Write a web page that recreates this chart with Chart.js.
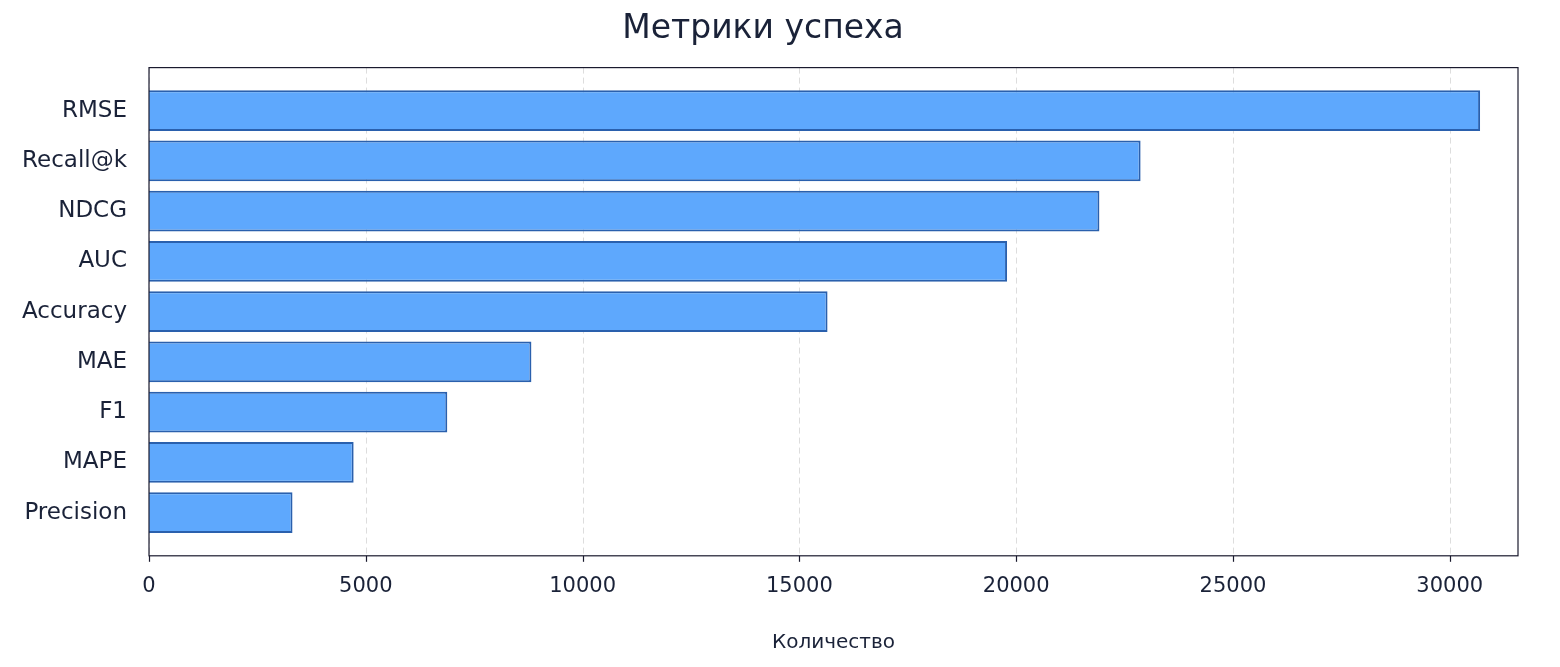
<!DOCTYPE html>
<html><head><meta charset="utf-8">
<script src="https://cdn.jsdelivr.net/npm/chart.js@4"></script>
<style>html,body{margin:0;background:#fff}#w{width:1560px;height:667px}</style>
</head><body><div id="w"><canvas id="c"></canvas></div>
<script>
const categories = ["RMSE","Recall@k","NDCG","AUC","Accuracy","MAE","F1","MAPE","Precision"];
const values = [30700,22870,21920,19790,15650,8820,6880,4720,3310];
const xTicks = [0,5000,10000,15000,20000,25000,30000];
const EXT = 18;
const frame = {id:'frame',
beforeDatasetsDraw(c){const a=c.chartArea,x=c.ctx,s=c.scales.x;x.save();
 x.strokeStyle='#dddddd';x.lineWidth=1;x.setLineDash([6,4]);
 xTicks.forEach(v=>{const p=Math.round(s.getPixelForValue(v))+0.5;x.beginPath();x.moveTo(p,a.top-EXT);x.lineTo(p,a.bottom+EXT);x.stroke();});
 x.setLineDash([]);x.strokeStyle='#1a1a2e';x.lineWidth=1.2;
 xTicks.forEach(v=>{const p=Math.round(s.getPixelForValue(v))+0.5;x.beginPath();x.moveTo(p,a.bottom+EXT);x.lineTo(p,a.bottom+EXT+6);x.stroke();});
 x.restore();},
afterDraw(c){const a=c.chartArea,x=c.ctx;x.save();x.strokeStyle='#1a1a2e';x.lineWidth=1.2;x.strokeRect(a.left,a.top-EXT,a.right-a.left,a.bottom-a.top+2*EXT);x.restore();}};
new Chart(document.getElementById('c'),{
type:'bar',
data:{labels:categories,datasets:[{data:values,backgroundColor:'#5ea8fd',borderColor:'#2a60ad',borderWidth:2,categoryPercentage:0.81,barPercentage:1}]},
options:{indexAxis:'y',responsive:true,maintainAspectRatio:false,animation:false,
layout:{padding:{left:8,right:42,top:0,bottom:8}},
plugins:{legend:{display:false},tooltip:{enabled:false},
title:{display:true,text:'Метрики успеха',color:'#1a2238',font:{family:'DejaVu Sans',size:33,weight:'normal'},padding:{top:10,bottom:36}}},
scales:{
x:{min:0,max:31574,afterBuildTicks(s){s.ticks=xTicks.map(v=>({value:v}));},
grid:{display:false},border:{display:false},
ticks:{color:'#1a2238',font:{family:'DejaVu Sans',size:21},padding:EXT+10,maxRotation:0,callback:v=>String(v)},
title:{display:true,text:'Количество',color:'#1a2238',font:{family:'DejaVu Sans',size:20},padding:{top:4}}},
y:{grid:{display:false},border:{display:false},
ticks:{color:'#1a2238',font:{family:'DejaVu Sans',size:23},padding:14}}
}},
plugins:[frame]
});
</script></body></html>
